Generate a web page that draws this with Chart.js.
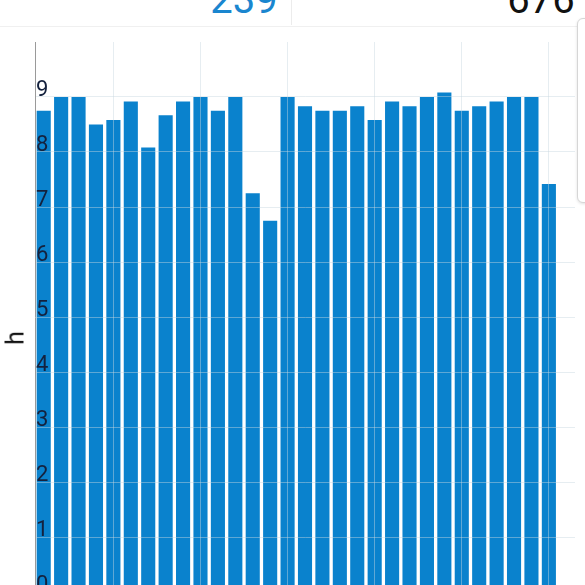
<!DOCTYPE html>
<html>
<head>
<meta charset="utf-8">
<script src="https://cdn.jsdelivr.net/npm/chart.js@4"></script>
<style>
  html, body { margin: 0; padding: 0; width: 585px; height: 585px; overflow: hidden; background: #fff; font-family: Roboto, sans-serif; }
  .stat { position: absolute; top: -20px; font-size: 40px; line-height: 40px; white-space: nowrap; transform: translateX(-50%); }
  #statLeft { left: 244px; color: #1a86cf; }
  #statRight { left: 541px; color: #111; }
  #sep { position: absolute; left: 291px; top: 0; width: 1px; height: 25px; background: #ececec; }
  #headLine { position: absolute; left: 0; top: 26px; width: 585px; height: 1px; background: #f0f0f0; }
  #sideBox { position: absolute; left: 577px; top: 18px; width: 40px; height: 183px; border: 1px solid #d6d6d6; border-radius: 6px; box-shadow: 0 1px 3px rgba(0,0,0,0.12); background: #fff; }
  #yTitle { position: absolute; left: 15px; top: 338px; font-size: 25px; color: #111; transform: translate(-50%, -50%) rotate(-90deg); }
  #wrap { position: absolute; left: 0; top: 0; width: 585px; height: 622px; }
</style>
</head>
<body>
<div class="stat" id="statLeft">239</div>
<div class="stat" id="statRight">676</div>
<div id="sep"></div>
<div id="headLine"></div>
<div id="wrap"><canvas id="chartSleep"></canvas></div>
<div id="yTitle">h</div>
<div id="sideBox"></div>
<script>
// ==== DATA ====
const days = ["1","2","3","4","5","6","7","8","9","10","11","12","13","14","15","16",
              "17","18","19","20","21","22","23","24","25","26","27","28","29","30","31"];
const hours = [8.75, 9, 9, 8.5, 8.58, 8.92, 8.08, 8.67, 8.92, 9, 8.75, 9, 7.25, 6.75, 9, 8.83,
               8.75, 8.75, 8.83, 8.58, 8.92, 8.83, 9, 9.08, 8.75, 8.83, 8.92, 9, 9, 7.42, null];
const yMax = 10;

const gridColor = "rgba(200,215,225,0.45)";

new Chart(document.getElementById("chartSleep"), {
    type: "bar",
    data: {
        labels: days,
        datasets: [{
            label: "h",
            data: hours,
            backgroundColor: "#0a82cd",
            barPercentage: 0.81,
            categoryPercentage: 1
        }]
    },
    options: {
        responsive: true,
        maintainAspectRatio: false,
        animation: false,
        layout: { padding: { top: 42, right: 10, left: 0, bottom: 0 } },
        plugins: { legend: { display: false }, tooltip: { enabled: false } },
        scales: {
            x: {
                offset: true,
                grid: {
                    offset: false,
                    z: 1,
                    drawTicks: false,
                    color: ctx => (ctx.index % 5 === 4 ? gridColor : "transparent")
                },
                border: { display: false },
                ticks: {
                    autoSkip: false,
                    maxRotation: 0,
                    color: "#1d2a3f",
                    font: { family: "Roboto", size: 16 },
                    callback: (v, i) => ((i + 1) % 5 === 0 ? days[i] : "")
                },
                afterFit: s => { s.height = 30; }
            },
            y: {
                min: 0,
                max: yMax,
                grid: {
                    z: 1,
                    drawTicks: false,
                    color: ctx => (ctx.tick && ctx.tick.value === yMax ? "transparent" : gridColor)
                },
                border: { display: true, color: "#9a9a9a", width: 1, z: 2 },
                ticks: {
                    z: 2,
                    stepSize: 1,
                    mirror: true,
                    padding: 1,
                    labelOffset: -7,
                    color: "#14213d",
                    font: { family: "Roboto", size: 22 },
                    callback: v => (v === yMax ? "" : v)
                },
                afterFit: s => { s.width = 35; }
            }
        }
    }
});
</script>
</body>
</html>
